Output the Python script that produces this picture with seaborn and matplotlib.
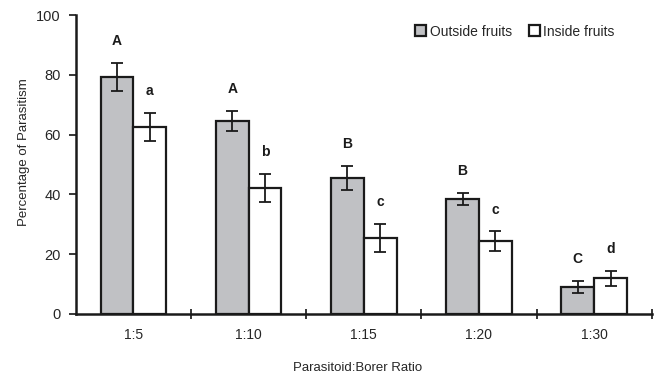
import numpy as np
import pandas as pd
import matplotlib
matplotlib.use("Agg")
import matplotlib.pyplot as plt
import seaborn as sns

ratios = ["1:5", "1:10", "1:15", "1:20", "1:30"]
outside = [79.3, 64.5, 45.5, 38.5, 9.0]
inside = [62.5, 42.1, 25.4, 24.4, 12.0]
outside_err = [4.8, 3.3, 4.0, 2.0, 2.0]
inside_err = [4.8, 4.8, 4.8, 3.2, 2.5]
outside_letters = ["A", "A", "B", "B", "C"]
inside_letters = ["a", "b", "c", "c", "d"]

df = pd.DataFrame({
    "ratio": ratios * 2,
    "pct": outside + inside,
    "group": ["Outside fruits"] * 5 + ["Inside fruits"] * 5,
})

sns.set_style("ticks")
plt.rcParams["font.family"] = ["Liberation Sans", "DejaVu Sans"]

fig = plt.figure(figsize=(6.59, 3.76), dpi=100)
ax = fig.add_axes([0.115, 0.165, 0.874, 0.795])

sns.barplot(data=df, x="ratio", y="pct", hue="group", order=ratios,
            hue_order=["Outside fruits", "Inside fruits"],
            palette=["#c0c1c4", "#ffffff"], edgecolor="#1a1a1a", linewidth=1.6,
            width=0.57, gap=0, errorbar=None, ax=ax)

# error bars and letters on top of each bar
n = len(ratios)
bars = ax.patches[:2 * n]
errs = outside_err + inside_err
letters = outside_letters + inside_letters
for bar, e, lab in zip(bars, errs, letters):
    cx = bar.get_x() + bar.get_width() / 2
    h = bar.get_height()
    ax.errorbar(cx, h, yerr=e, color="#1a1a1a", capsize=4, elinewidth=1.3,
                capthick=1.3)
    ax.text(cx, h + e + 5, lab, ha="center", va="bottom", fontsize=10,
            fontweight="bold", color="#1a1a1a")

ax.set_ylim(0, 100)
ax.set_xlim(-0.5, 4.5)
ax.set_yticks([0, 20, 40, 60, 80, 100])
ax.set_xticks(range(n))
ax.set_xticklabels(ratios)
ax.set_xticks(np.arange(0.5, n, 1), minor=True)
ax.tick_params(axis="x", which="major", length=0, pad=10, labelsize=10)
ax.tick_params(axis="x", which="minor", length=7, direction="inout", width=1.3)
ax.tick_params(axis="y", length=5, width=1.3, labelsize=10.5, pad=6)

ax.set_xlabel("Parasitoid:Borer Ratio", fontsize=9.5, labelpad=9)
ax.set_ylabel("Percentage of Parasitism", fontsize=9.5, labelpad=3)
ax.yaxis.set_label_coords(-0.08, 0.54)
ax.xaxis.set_label_coords(0.49, -0.16)

for s in ["top", "right"]:
    ax.spines[s].set_visible(False)
for s in ["left", "bottom"]:
    ax.spines[s].set_linewidth(1.8)
    ax.spines[s].set_color("#1a1a1a")

ax.legend(loc="upper right", ncol=2, frameon=False, fontsize=10,
          handlelength=0.8, handleheight=0.8, handletextpad=0.25,
          columnspacing=1.2, bbox_to_anchor=(0.957, 1.01))

fig.savefig("out.png", dpi=100)
